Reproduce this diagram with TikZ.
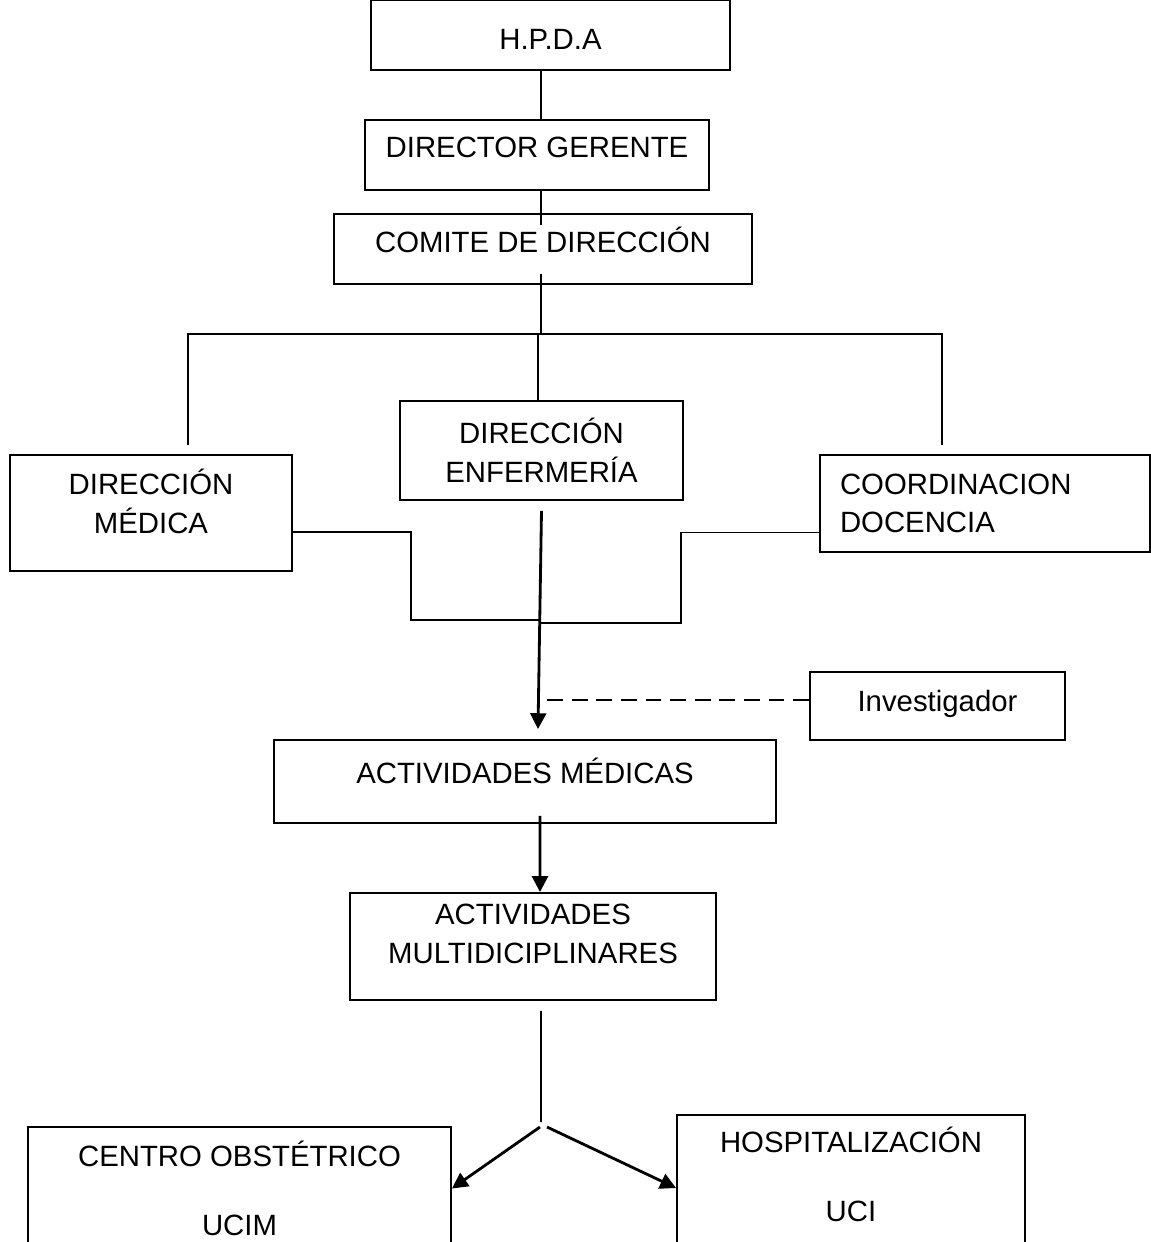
\documentclass[tikz,border=0pt]{standalone}
\usepackage{fontspec}
\setmainfont{Liberation Sans}
\usetikzlibrary{arrows.meta, positioning}

\begin{document}
\begin{tikzpicture}[x=0.02cm, y=-0.02cm, line width=1.1pt, >={Triangle[length=9pt,width=9pt]}]
\tikzstyle{box}=[draw, rectangle, line width=1.1pt, align=center, inner sep=0pt, font=\fontsize{16.7}{22}\selectfont];
\tikzstyle{flow}=[->, line width=1.6pt];
\useasboundingbox (0,0) rectangle (1151,1242);
\clip (0,0) rectangle (1151,1242);
% boxes
\node[box, minimum width=7.18cm, minimum height=1.4cm] (hpda) at (550.5,35) {\mbox{}\\[-5pt]H.P.D.A};
\node[box, minimum width=6.88cm, minimum height=1.4cm] (dg) at (537,155) {DIRECTOR GERENTE\\[-12.9pt]\mbox{}};
\node[box, minimum width=8.36cm, minimum height=1.4cm] (comite) at (543,249) {COMITE DE DIRECCIÓN\\[-11.8pt]\mbox{}};
\node[box, minimum width=5.64cm, minimum height=2.32cm] (dmed) at (151,513) {DIRECCIÓN\\MÉDICA\\[-8.4pt]\mbox{}};
\node[box, minimum width=5.66cm, minimum height=1.98cm] (denf) at (541.5,450.5) {DIRECCIÓN\\ENFERMERÍA};
\node[box, minimum width=6.6cm, minimum height=1.94cm, text width=5.8cm, align=left] (coord) at (985,503.5) {COORDINACION\\DOCENCIA};
\node[box, minimum width=5.1cm, minimum height=1.36cm] (invest) at (937.5,706) {Investigador\\[-16.3pt]\mbox{}};
\node[box, minimum width=10.04cm, minimum height=1.66cm] (actmed) at (525,781.5) {ACTIVIDADES MÉDICAS\\[-9.5pt]\mbox{}};
\node[box, minimum width=7.32cm, minimum height=2.14cm] (actmulti) at (533,946.5) {ACTIVIDADES\\MULTIDICIPLINARES\\[-7.8pt]\mbox{}};
\node[box, minimum width=8.46cm, minimum height=2.46cm] (centro) at (239.5,1188.5) {CENTRO OBSTÉTRICO\\[17pt]UCIM};
\node[box, minimum width=6.96cm, minimum height=2.6cm] (hosp) at (851,1180) {HOSPITALIZACIÓN\\[17pt]UCI\\[-15.2pt]\mbox{}};
% junction points
\coordinate (spine) at (541,0);
\coordinate (cdi) at (541,225);
\coordinate (cdo) at (541,274);
\coordinate (barmid) at (541,334);
\coordinate (tl) at (188,445);
\coordinate (tr) at (942,445);
\coordinate (joinl) at (541,620);
\coordinate (joinr) at (541,623);
\coordinate (fork) at (541,1122);
\coordinate (forkl) at (540,1127);
\coordinate (forkr) at (547,1127);
% lines
\draw (hpda.south -| spine) -- (dg.north -| spine);
\draw (dg.south -| spine) -- (cdi);
\draw (cdo) -- (barmid);
\draw (tl) |- (barmid) -| (tr);
\draw ([xshift=-0.07cm]denf.north) -- ([xshift=-0.07cm]denf.north |- barmid);
\draw ([yshift=-0.38cm]dmed.east) -- ++(118,0) |- (joinl);
\draw ([yshift=-0.58cm]coord.west) -- ++(-138,0) |- (joinr);
\draw[flow] ([yshift=-0.2cm]denf.south) -- ([xshift=0.26cm,yshift=0.2cm]actmed.north);
\draw[dashed, dash pattern=on 9pt off 5pt] ([yshift=0.12cm]invest.west) -- ++(-272,0);
\draw[flow] ([xshift=0.3cm,yshift=0.16cm]actmed.south) -- ([xshift=0.14cm]actmulti.north);
\draw ([xshift=0.16cm,yshift=-0.2cm]actmulti.south) -- (fork);
\draw[flow] (forkl) -- (centro.east);
\draw[flow] (forkr) -- ([yshift=-0.16cm]hosp.west);
\end{tikzpicture}
\end{document}
